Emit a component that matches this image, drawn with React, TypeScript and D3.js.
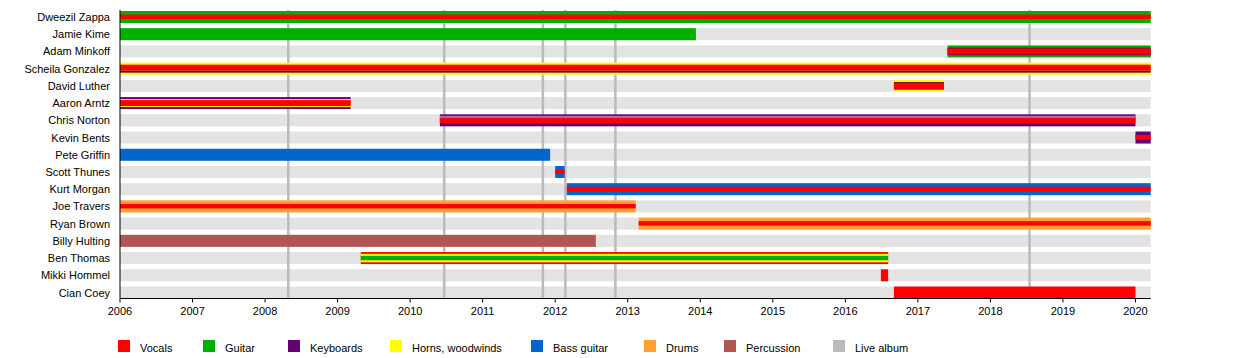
import React from "react";
import * as d3 from "d3";

const members = [
  "Dweezil Zappa", "Jamie Kime", "Adam Minkoff", "Scheila Gonzalez", "David Luther",
  "Aaron Arntz", "Chris Norton", "Kevin Bents", "Pete Griffin", "Scott Thunes",
  "Kurt Morgan", "Joe Travers", "Ryan Brown", "Billy Hulting", "Ben Thomas",
  "Mikki Hommel", "Cian Coey",
];
const startYears = [2006, 2006, 2017.41, 2006, 2016.67, 2006, 2010.41, 2020.0, 2006, 2012.0, 2012.16, 2006, 2013.15, 2006, 2009.32, 2016.49, 2016.67];
const endYears = [2020.21, 2013.94, 2020.21, 2020.21, 2017.36, 2009.18, 2020.0, 2020.21, 2011.93, 2012.13, 2020.21, 2013.11, 2020.21, 2012.56, 2016.59, 2016.59, 2020.0];
const roles = [
  ["Guitar", "Vocals"],
  ["Guitar"],
  ["Guitar", "Keyboards", "Vocals"],
  ["Horns, woodwinds", "Vocals", "Keyboards"],
  ["Horns, woodwinds", "Keyboards", "Vocals"],
  ["Keyboards", "Horns, woodwinds", "Vocals"],
  ["Keyboards", "Mixed", "Vocals"],
  ["Keyboards", "Vocals"],
  ["Bass guitar"],
  ["Bass guitar", "Vocals"],
  ["Bass guitar", "Vocals"],
  ["Drums", "Vocals"],
  ["Drums", "Vocals"],
  ["Percussion"],
  ["Vocals", "Horns, woodwinds", "Guitar"],
  ["Vocals"],
  ["Vocals"],
];
const liveAlbums = [2008.32, 2010.47, 2011.83, 2012.14, 2012.83, 2018.54];
const tickYears = d3.range(2006, 2021);
const legendLabels = ["Vocals", "Guitar", "Keyboards", "Horns, woodwinds", "Bass guitar", "Drums", "Percussion", "Live album"];

const colors: Record<string, string> = {
  Vocals: "#ff0000",
  Guitar: "#00b000",
  Keyboards: "#660077",
  "Horns, woodwinds": "#ffff00",
  "Bass guitar": "#0066cc",
  Drums: "#ffa030",
  Percussion: "#b35555",
  "Live album": "#bbbbbb",
  Mixed: "#b86a86",
};

const layerBands: Record<number, [number, number][]> = {
  1: [[0, 12]],
  2: [[0, 12], [3.5, 8]],
  3: [[0, 12], [1.8, 10.2], [3.3, 8.5]],
};
const specialBands: Record<string, [number, number][]> = {
  "Scheila Gonzalez": [[0, 12], [2, 8], [8, 10]],
  "Ben Thomas": [[0, 12], [1.8, 10.2], [3.8, 8.2]],
  "Aaron Arntz": [[0, 12], [2, 10], [3, 9]],
  "Chris Norton": [[0, 12], [1.5, 4], [4, 9]],
  "Adam Minkoff": [[0, 12], [2.2, 9.8], [3, 9]],
  "David Luther": [[0, 12], [2.2, 9.8], [3, 9]],
};

const W = 1250, H = 358;
const left = 120, right = 1150.7;
const legendX = [118, 203, 288, 390, 531, 644, 724, 833];

export default function App() {
  const x = d3.scaleLinear().domain([2006, 2020.21]).range([left, right]);
  const y = d3.scalePoint<string>().domain(members).range([17, 292.5]);
  const barH = 12;
  const axisY = 298.5;
  const font = "'Liberation Sans', Arial, sans-serif";
  return (
    <svg width={W} height={H} style={{ position: "absolute", left: 0, top: 0 }} fontFamily={font}>
      <rect width={W} height={H} fill="#fff" />
      {members.map((m) => (
        <rect key={"bg" + m} x={left} y={(y(m) as number) - barH / 2} width={right - left} height={barH} fill="#e3e3e3" />
      ))}
      {liveAlbums.map((a, i) => (
        <line key={"la" + i} x1={x(a)} x2={x(a)} y1={10} y2={axisY} stroke={colors["Live album"]} strokeWidth={2.5} />
      ))}
      {members.map((m, i) => {
        const r = roles[i];
        const bands = specialBands[m] || layerBands[r.length];
        const x0 = x(startYears[i]);
        const x1 = x(endYears[i]);
        const top = (y(m) as number) - barH / 2;
        return (
          <g key={"bar" + m}>
            {r.map((role, j) => (
              <rect key={j} x={x0} width={x1 - x0} y={top + bands[j][0]} height={bands[j][1] - bands[j][0]} fill={colors[role]} />
            ))}
          </g>
        );
      })}
      {members.map((m) => (
        <text key={"lab" + m} x={110} y={(y(m) as number) + 4} textAnchor="end" fontSize={11} fill="#000">{m}</text>
      ))}
      <line x1={left} x2={left} y1={10} y2={axisY} stroke="#000" strokeWidth={1} />
      <line x1={left} x2={right} y1={axisY} y2={axisY} stroke="#000" strokeWidth={1} />
      {tickYears.map((t) => (
        <g key={"t" + t}>
          <line x1={x(t)} x2={x(t)} y1={axisY} y2={axisY + 4} stroke="#000" />
          <text x={x(t)} y={315} textAnchor="middle" fontSize={11} fill="#000">{t}</text>
        </g>
      ))}
      {legendLabels.map((l, i) => (
        <g key={"lg" + l}>
          <rect x={legendX[i]} y={340} width={12} height={12} fill={colors[l]} />
          <text x={legendX[i] + 22} y={352} fontSize={11} fill="#000">{l}</text>
        </g>
      ))}
    </svg>
  );
}
